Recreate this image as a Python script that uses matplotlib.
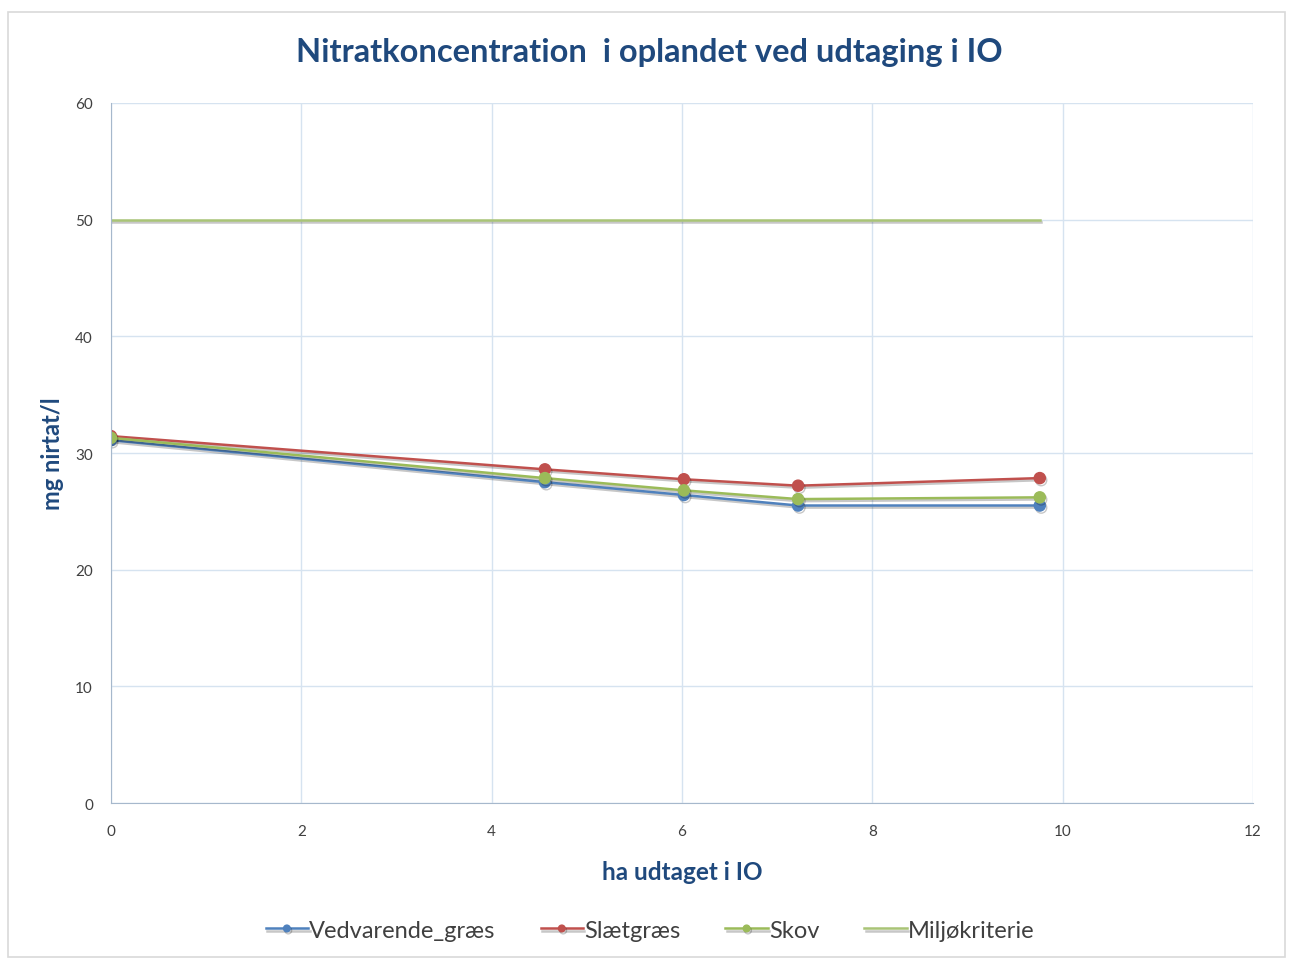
import numpy as np
import matplotlib.pyplot as plt
import matplotlib.patheffects as pe
from matplotlib.patches import Rectangle

plt.rcParams['font.family'] = ['Lato', 'DejaVu Sans']

# data
ha = [0, 4.56, 6.02, 7.22, 9.76]
vedvarende = [31.1, 27.5, 26.4, 25.5, 25.5]
slaetgraes = [31.45, 28.6, 27.75, 27.2, 27.85]
skov = [31.3, 27.85, 26.8, 26.05, 26.2]
miljo_x = [0, 9.76]
miljo_y = [50, 50]

title_col = '#1F497D'
grid_col = '#D6E3F0'
shadow = [pe.SimpleLineShadow(offset=(1, -1.5), alpha=0.22), pe.Normal()]

fig = plt.figure(figsize=(12.9, 9.62), dpi=100)
fig.patches.append(Rectangle((0.006, 0.004), 0.99, 0.983, transform=fig.transFigure,
                             fill=False, edgecolor='#D9D9D9', linewidth=1.2))
ax = fig.add_axes([0.086, 0.1642, 0.8853, 0.7277])

ax.plot(miljo_x, miljo_y, color='#A9C476', linewidth=1.8, label='Miljøkriterie',
        path_effects=shadow)
ax.plot(ha, vedvarende, color='#4F81BD', marker='o', markersize=8, linewidth=1.8,
        label='Vedvarende_græs', path_effects=shadow)
ax.plot(ha, slaetgraes, color='#C0504D', marker='o', markersize=8, linewidth=1.8,
        label='Slætgræs', path_effects=shadow)
ax.plot(ha, skov, color='#9BBB59', marker='o', markersize=8, linewidth=1.8,
        label='Skov', path_effects=shadow)

ax.set_xlim(0, 12)
ax.set_ylim(0, 60)
ax.set_xticks(np.arange(0, 13, 2))
ax.set_yticks(np.arange(0, 61, 10))
ax.grid(True, color=grid_col, linewidth=1)
ax.set_axisbelow(True)
for s in ['top', 'right']:
    ax.spines[s].set_visible(False)
for s in ['left', 'bottom']:
    ax.spines[s].set_color('#A6B8CC')
ax.tick_params(axis='both', length=0, labelsize=11, colors='#404040')
ax.tick_params(axis='x', pad=15)
ax.tick_params(axis='y', pad=13)

fig.text(0.503, 0.945, 'Nitratkoncentration  i oplandet ved udtaging i IO', fontsize=23.5,
         fontweight='bold', color=title_col, ha='center', va='center')
ax.set_xlabel('ha udtaget i IO', fontsize=17.5, fontweight='bold', color=title_col, labelpad=16)
ax.set_ylabel('mg nirtat/l', fontsize=17, fontweight='bold', color=title_col, labelpad=8)

handles, labels = ax.get_legend_handles_labels()
order = [1, 2, 3, 0]
leg = fig.legend([handles[i] for i in order], [labels[i] for i in order],
                 loc='center', bbox_to_anchor=(0.504, 0.032), ncol=4, frameon=False,
                 fontsize=17, handlelength=1.8, handletextpad=0.05, columnspacing=1.9,
                 markerscale=0.6)
for t in leg.get_texts():
    t.set_color('#404040')

fig.savefig('out.png', dpi=100)
